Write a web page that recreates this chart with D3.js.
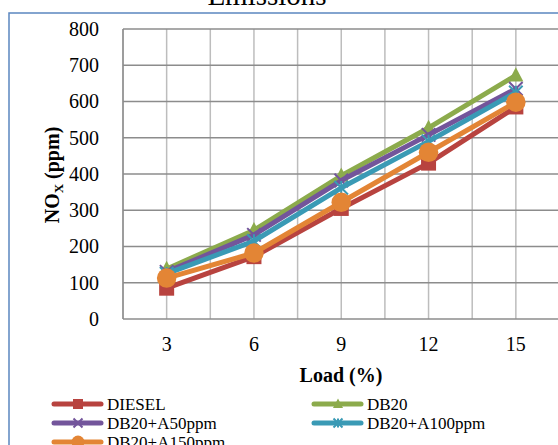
<!DOCTYPE html>
<html>
<head>
<meta charset="utf-8">
<script src="https://cdn.jsdelivr.net/npm/d3@7"></script>
<style>
  body { margin: 0; background: #fff; }
  svg { display: block; font-family: "Liberation Serif", "Times New Roman", serif; }
</style>
</head>
<body>
<svg id="chart" width="558" height="445"></svg>
<script>
// chart values
const loads = ["3", "6", "9", "12", "15"];
const seriesNames = ["DIESEL", "DB20", "DB20+A50ppm", "DB20+A100ppm", "DB20+A150ppm"];
const diesel = [85, 172, 305, 430, 585];
const db20 = [138, 245, 395, 527, 672];
const a50 = [130, 232, 382, 508, 635];
const a100 = [125, 215, 362, 490, 625];
const a150 = [113, 182, 322, 460, 598];
const yTicks = [0, 100, 200, 300, 400, 500, 600, 700, 800];

const colors = ["#B8433F", "#8CAB4C", "#73559B", "#3A9AB5", "#E38535"];
const markers = ["square", "triangle", "x", "star", "circle"];
const allValues = [diesel, db20, a50, a100, a150];

const svg = d3.select("#chart");
const margin = { top: 29, left: 123, bottom: 126 };
const width = 5 * 87.3;
const height = 445 - margin.top - margin.bottom;

// outer frame
svg.append("rect")
  .attr("x", 9).attr("y", 13)
  .attr("width", 600).attr("height", 500)
  .attr("fill", "none")
  .attr("stroke", "#5B86C0")
  .attr("stroke-width", 1.5);

// title (cut off at the top)
svg.append("text")
  .attr("x", 267).attr("y", 5)
  .attr("text-anchor", "middle")
  .attr("font-size", 29)
  .text("Emissions");

const x = d3.scaleBand().domain(loads).range([0, width]);
const y = d3.scaleLinear().domain([0, 800]).range([height, 0]);

const chart = svg.append("g").attr("transform", "translate(" + margin.left + "," + margin.top + ")");

// vertical grid: band edges and band centres
let vLines = [];
loads.forEach(function (d) {
  vLines.push(x(d));
  vLines.push(x(d) + x.bandwidth() / 2);
});
vLines.push(width);
chart.append("g").selectAll("line")
  .data(vLines)
  .enter().append("line")
  .attr("x1", d => d).attr("x2", d => d)
  .attr("y1", 0).attr("y2", height)
  .attr("stroke", "#BDBDBD")
  .attr("stroke-width", 1.5);

// horizontal grid
chart.append("g").selectAll("line")
  .data(yTicks)
  .enter().append("line")
  .attr("x1", 0).attr("x2", width)
  .attr("y1", d => y(d)).attr("y2", d => y(d))
  .attr("stroke", "#8C8C8C")
  .attr("stroke-width", 1.5);

// left axis line
chart.append("line")
  .attr("x1", 0).attr("x2", 0).attr("y1", 0).attr("y2", height)
  .attr("stroke", "#8C8C8C").attr("stroke-width", 1.5);

// y-axis labels
const yAxis = chart.append("g")
  .call(d3.axisLeft(y).tickValues(yTicks).tickSize(0).tickPadding(24));
yAxis.select(".domain").remove();
yAxis.selectAll("text")
  .attr("font-family", "Liberation Serif")
  .attr("font-size", 20)
  .attr("fill", "#000");

// x-axis labels
const xAxis = chart.append("g")
  .attr("transform", "translate(0," + height + ")")
  .call(d3.axisBottom(x).tickSize(0).tickPadding(18));
xAxis.select(".domain").remove();
xAxis.selectAll("text")
  .attr("font-family", "Liberation Serif")
  .attr("font-size", 20)
  .attr("fill", "#000");

// axis titles
svg.append("text")
  .attr("x", 341).attr("y", 382)
  .attr("text-anchor", "middle")
  .attr("font-size", 20)
  .attr("font-weight", "bold")
  .text("Load (%)");

const yTitle = svg.append("text")
  .attr("transform", "translate(59,175) rotate(-90)")
  .attr("text-anchor", "middle")
  .attr("font-size", 20)
  .attr("font-weight", "bold");
yTitle.append("tspan").text("NO");
yTitle.append("tspan").attr("font-size", 13).attr("dy", 4).text("X");
yTitle.append("tspan").attr("dy", -4).text(" (ppm)");

// marker drawing
function drawMarker(g, type, color, cx, cy, s) {
  if (type === "square") {
    g.append("rect")
      .attr("x", cx - s * 0.5).attr("y", cy - s * 0.5)
      .attr("width", s).attr("height", s)
      .attr("fill", color);
  } else if (type === "triangle") {
    g.append("path")
      .attr("d", "M" + cx + "," + (cy - s * 0.55) + "L" + (cx + s * 0.5) + "," + (cy + s * 0.4) + "L" + (cx - s * 0.5) + "," + (cy + s * 0.4) + "Z")
      .attr("fill", color);
  } else if (type === "circle") {
    g.append("circle")
      .attr("cx", cx).attr("cy", cy).attr("r", s * 0.65)
      .attr("fill", color);
  } else {
    const h = s * 0.45;
    let p = "M" + (cx - h) + "," + (cy - h) + "L" + (cx + h) + "," + (cy + h) +
      "M" + (cx - h) + "," + (cy + h) + "L" + (cx + h) + "," + (cy - h);
    if (type === "star") p += "M" + cx + "," + (cy - h) + "L" + cx + "," + (cy + h);
    g.append("path")
      .attr("d", p)
      .attr("stroke", color)
      .attr("stroke-width", 2)
      .attr("fill", "none");
  }
}

const line = d3.line()
  .x((d, i) => x(loads[i]) + x.bandwidth() / 2)
  .y(d => y(d));

allValues.forEach(function (vals, si) {
  const g = chart.append("g").attr("class", "series");
  g.append("path")
    .datum(vals)
    .attr("d", line)
    .attr("fill", "none")
    .attr("stroke", colors[si])
    .attr("stroke-width", 5)
    .attr("stroke-linejoin", "round")
    .attr("stroke-linecap", "round");
  vals.forEach(function (v, i) {
    drawMarker(g, markers[si], colors[si], x(loads[i]) + x.bandwidth() / 2, y(v), 15);
  });
});

// legend
const legendPos = [
  { x: 52, y: 404 }, { x: 312, y: 404 },
  { x: 52, y: 423 }, { x: 312, y: 423 },
  { x: 52, y: 442 }
];
seriesNames.forEach(function (name, i) {
  const p = legendPos[i];
  const g = svg.append("g");
  g.append("line")
    .attr("x1", p.x + 2).attr("x2", p.x + 49)
    .attr("y1", p.y).attr("y2", p.y)
    .attr("stroke", colors[i])
    .attr("stroke-width", 5)
    .attr("stroke-linecap", "round");
  drawMarker(g, markers[i], colors[i], p.x + 26, p.y, 10);
  g.append("text")
    .attr("x", p.x + 55).attr("y", p.y)
    .attr("dy", "0.35em")
    .attr("font-size", 17)
    .text(name);
});
</script>
</body>
</html>
